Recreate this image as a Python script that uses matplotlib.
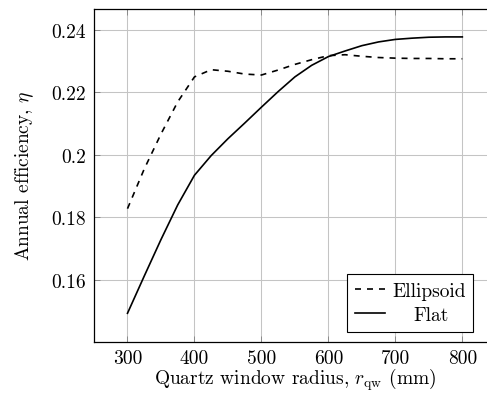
import matplotlib
matplotlib.use("Agg")
import matplotlib.pyplot as plt

plt.rcParams['font.family'] = ['cmr10', 'DejaVu Serif']
plt.rcParams['mathtext.fontset'] = 'cm'
plt.rcParams['axes.formatter.use_mathtext'] = True

radius = [300, 325, 350, 375, 400, 425, 450, 475, 500, 525, 550, 575,
          600, 625, 650, 675, 700, 725, 750, 775, 800]
ellipsoid = [0.1828, 0.1955, 0.2067, 0.2170, 0.2250, 0.2273, 0.2268, 0.2259,
             0.2256, 0.2272, 0.2290, 0.2305, 0.2318, 0.2321, 0.2316, 0.2312,
             0.2310, 0.2309, 0.2309, 0.2308, 0.2308]
flat = [0.1493, 0.1612, 0.1729, 0.1840, 0.1935, 0.1998, 0.2052, 0.2102,
        0.2153, 0.2203, 0.2250, 0.2287, 0.2315, 0.2333, 0.2350, 0.2362,
        0.2370, 0.2374, 0.2377, 0.2378, 0.2378]

xticks = [300, 400, 500, 600, 700, 800]
yticks = [0.16, 0.18, 0.20, 0.22, 0.24]
ytick_labels = ['0.16', '0.18', '0.2', '0.22', '0.24']

fig = plt.figure(figsize=(4.87, 4.02), dpi=100)
ax = fig.add_axes([94/487, 1 - 343/402, (495.8 - 94)/487, (343 - 9.5)/402])

ax.plot(radius, ellipsoid, color='black', lw=1.2, linestyle=(0, (3.6, 3.6)),
        label='Ellipsoid')
ax.plot(radius, flat, color='black', lw=1.2, label='Flat')

ax.set_xlim(250, 850)
ax.set_ylim(0.1401, 0.2469)
ax.set_xticks(xticks)
ax.set_xticklabels([str(v) for v in xticks])
ax.set_yticks(yticks)
ax.set_yticklabels(ytick_labels)

ax.grid(True, color='#c4c4c4', lw=0.75)
ax.set_axisbelow(True)
ax.tick_params(direction='in', length=4, width=0.6, color='0.5',
               top=True, right=True, labelsize=14)
ax.tick_params(axis='x', pad=5)
ax.tick_params(axis='y', pad=6)
for s in ax.spines.values():
    s.set_linewidth(0.9)
    s.set_color('black')
ax.spines['right'].set_visible(False)

ax.set_xlabel(r'Quartz window radius, $r_{\mathrm{qw}}$ (mm)', fontsize=14, labelpad=-1)
ax.set_ylabel(r'Annual efficiency, $\eta$', fontsize=14, labelpad=11)

leg = ax.legend(loc='lower right', bbox_to_anchor=(0.944, 0.031),
                borderaxespad=0, fontsize=14, fancybox=False, framealpha=1,
                edgecolor='black', handlelength=1.55, handletextpad=0.36,
                labelspacing=0.33, borderpad=0.4)
leg.get_frame().set_linewidth(0.8)
leg.get_texts()[1].set_x(21)

fig.savefig('out.png', dpi=100)
